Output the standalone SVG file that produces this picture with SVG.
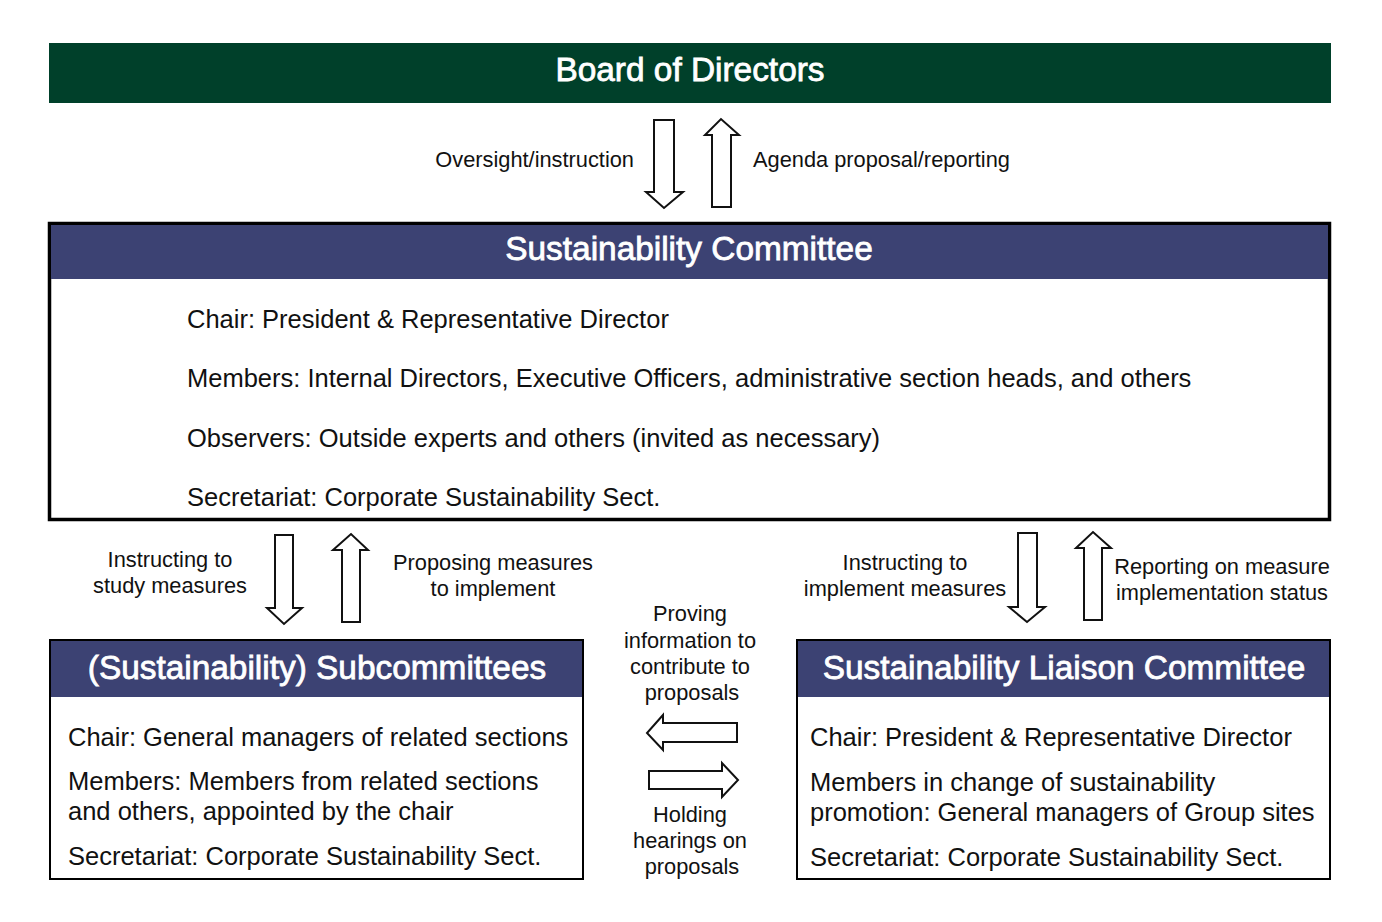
<svg xmlns="http://www.w3.org/2000/svg" width="1382" height="922" viewBox="0 0 1382 922">
<style>
text{font-family:"Liberation Sans",Arial,sans-serif;fill:#111}
.h{font-size:33.4px;fill:#fff;stroke:#fff;stroke-width:0.8;text-anchor:middle}
.b{font-size:25.5px}
.l{font-size:21.8px}
.c{text-anchor:middle}
.arr{fill:#fff;stroke:#111;stroke-width:2;stroke-linejoin:miter}
.hdr{fill:#3c4273}
</style>
<rect width="1382" height="922" fill="#fff"/>
<g id="board">
<rect x="49" y="43" width="1282" height="60" fill="#00402a"/>
<text class="h" x="690" y="81">Board of Directors</text>
</g>
<g id="committee">
<rect x="49.5" y="223.5" width="1280" height="296" fill="#fff" stroke="#000" stroke-width="3.5"/>
<rect x="51" y="225" width="1277" height="54" class="hdr"/>
<text class="h" x="689" y="260">Sustainability Committee</text>
<text class="b" x="187" y="328">Chair: President &amp; Representative Director</text>
<text class="b" x="187" y="387">Members: Internal Directors, Executive Officers, administrative section heads, and others</text>
<text class="b" x="187" y="447">Observers: Outside experts and others (invited as necessary)</text>
<text class="b" x="187" y="506">Secretariat: Corporate Sustainability Sect.</text>
</g>
<g id="subcommittees">
<rect x="50" y="640" width="533" height="239" fill="#fff" stroke="#000" stroke-width="2"/>
<rect x="51" y="641" width="531" height="56" class="hdr"/>
<text class="h" x="317" y="679">(Sustainability) Subcommittees</text>
<text class="b" x="68" y="746">Chair: General managers of related sections</text>
<text class="b" x="68" y="790">Members: Members from related sections</text>
<text class="b" x="68" y="820">and others, appointed by the chair</text>
<text class="b" x="68" y="865">Secretariat: Corporate Sustainability Sect.</text>
</g>
<g id="liaison">
<rect x="797" y="640" width="533" height="239" fill="#fff" stroke="#000" stroke-width="2"/>
<rect x="798" y="641" width="531" height="56" class="hdr"/>
<text class="h" x="1064" y="679">Sustainability Liaison Committee</text>
<text class="b" x="810" y="746">Chair: President &amp; Representative Director</text>
<text class="b" x="810" y="791">Members in change of sustainability</text>
<text class="b" x="810" y="821">promotion: General managers of Group sites</text>
<text class="b" x="810" y="866">Secretariat: Corporate Sustainability Sect.</text>
</g>
<g id="connectors">
<path class="arr" d="M654,120 H674 V192 H683 L664,208 L646,192 H654 Z"/>
<path class="arr" d="M712,207 V135 H705 L721,119 L739,135 H731 V207 Z"/>
<path class="arr" d="M275,535 H293 V608 H302 L284,624 L267,608 H275 Z"/>
<path class="arr" d="M342,622 V550 H333 L351,534 L368,550 H360 V622 Z"/>
<path class="arr" d="M1018,533 H1037 V607 H1045 L1027,622 L1009,607 H1018 Z"/>
<path class="arr" d="M1084,620 V548 H1076 L1093,532 L1111,548 H1102 V620 Z"/>
<path class="arr" d="M737,723 V742 H663 V750 L647,733 L663,715 V723 Z"/>
<path class="arr" d="M649,771 H722 V763 L738,780 L722,797 V789 H649 Z"/>
</g>
<g id="labels">
<text class="l" x="634" y="167" text-anchor="end">Oversight/instruction</text>
<text class="l" x="753" y="167">Agenda proposal/reporting</text>
<text class="l c" x="170" y="567">Instructing to</text>
<text class="l c" x="170" y="593">study measures</text>
<text class="l c" x="493" y="570">Proposing measures</text>
<text class="l c" x="493" y="596">to implement</text>
<text class="l c" x="905" y="570">Instructing to</text>
<text class="l c" x="905" y="596">implement measures</text>
<text class="l c" x="1222" y="574">Reporting on measure</text>
<text class="l c" x="1222" y="600">implementation status</text>
<text class="l c" x="690" y="621">Proving</text>
<text class="l c" x="690" y="648">information to</text>
<text class="l c" x="690" y="674">contribute to</text>
<text class="l c" x="692" y="700">proposals</text>
<text class="l c" x="690" y="822">Holding</text>
<text class="l c" x="690" y="848">hearings on</text>
<text class="l c" x="692" y="874">proposals</text>
</g>
</svg>
